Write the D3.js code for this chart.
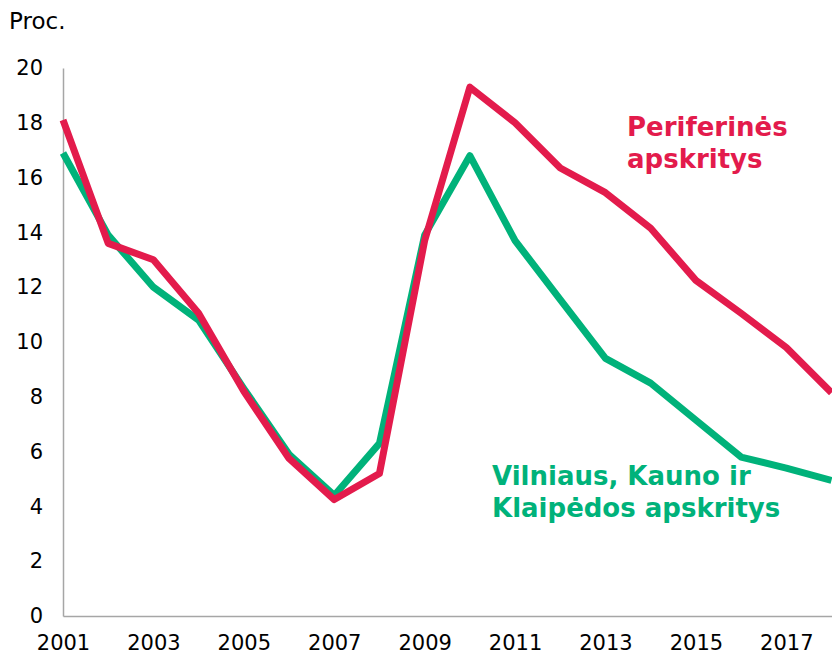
<!DOCTYPE html>
<html>
<head>
<meta charset="utf-8">
<script src="https://cdn.jsdelivr.net/npm/d3@7/dist/d3.min.js"></script>
<style>
  body { margin: 0; background: #fff; }
  svg text { font-family: "DejaVu Sans", Verdana, sans-serif; }
</style>
</head>
<body>
<div id="chart"></div>
<script>
// data
var years = [2001, 2002, 2003, 2004, 2005, 2006, 2007, 2008, 2009, 2010, 2011, 2012, 2013, 2014, 2015, 2016, 2017, 2018];
var periferines = [18.1, 13.6, 13.0, 11.05, 8.2, 5.75, 4.25, 5.2, 13.7, 19.3, 18.0, 16.35, 15.45, 14.15, 12.25, 11.05, 9.8, 8.15];
var didziosios = [16.9, 13.9, 12.0, 10.8, 8.3, 5.9, 4.4, 6.3, 13.9, 16.8, 13.7, 11.55, 9.4, 8.5, 7.15, 5.8, 5.4, 4.95];
var yTicks = [0, 2, 4, 6, 8, 10, 12, 14, 16, 18, 20];
var xTicks = [2001, 2003, 2005, 2007, 2009, 2011, 2013, 2015, 2017];

var width = 832, height = 654,
    margin = { top: 68, right: 0, bottom: 38, left: 63 };

var svg = d3.select("#chart").append("svg")
    .attr("width", width)
    .attr("height", height);

var x = d3.scaleLinear().domain([2001, 2018]).range([margin.left, 831.5]),
    y = d3.scaleLinear().domain([0, 20]).range([height - margin.bottom, margin.top]);

// y axis
var yAxis = svg.append("g")
    .attr("transform", "translate(" + margin.left + ",0)")
    .call(d3.axisLeft(y).tickValues(yTicks).tickSize(0).tickPadding(20));
yAxis.select(".domain").attr("stroke", "#a6a6a6").attr("stroke-width", 1.5);
yAxis.selectAll("text").attr("font-size", "21px").attr("fill", "#000")
    .attr("font-family", "DejaVu Sans, Verdana, sans-serif");

// x axis
var xAxis = svg.append("g")
    .attr("transform", "translate(0," + (height - margin.bottom) + ")")
    .call(d3.axisBottom(x).tickValues(xTicks).tickFormat(d3.format("d")).tickSize(0).tickPadding(19));
xAxis.select(".domain").attr("stroke", "#a6a6a6").attr("stroke-width", 1.5);
xAxis.selectAll("text").attr("font-size", "21px").attr("fill", "#000")
    .attr("font-family", "DejaVu Sans, Verdana, sans-serif");

svg.append("text")
    .attr("x", 9).attr("y", 29)
    .attr("font-size", "23px")
    .text("Proc.");

var line = d3.line()
    .x(function (d, i) { return x(years[i]); })
    .y(function (d) { return y(d); });

svg.append("path")
    .datum(didziosios)
    .attr("fill", "none")
    .attr("stroke", "#00b27a")
    .attr("stroke-width", 7)
    .attr("stroke-linejoin", "round")
    .attr("d", line);

svg.append("path")
    .datum(periferines)
    .attr("fill", "none")
    .attr("stroke", "#e31b4c")
    .attr("stroke-width", 7)
    .attr("stroke-linejoin", "round")
    .attr("d", line);

// series labels
var red = svg.append("text").attr("font-size", "26px").attr("font-weight", "bold").attr("fill", "#e31b4c");
red.append("tspan").attr("x", 627).attr("y", 136).text("Periferinės");
red.append("tspan").attr("x", 627).attr("y", 168).text("apskritys");

var green = svg.append("text").attr("font-size", "26px").attr("font-weight", "bold").attr("fill", "#00b27a");
green.append("tspan").attr("x", 492).attr("y", 485).text("Vilniaus, Kauno ir");
green.append("tspan").attr("x", 492).attr("y", 517).text("Klaipėdos apskritys");
</script>
</body>
</html>
